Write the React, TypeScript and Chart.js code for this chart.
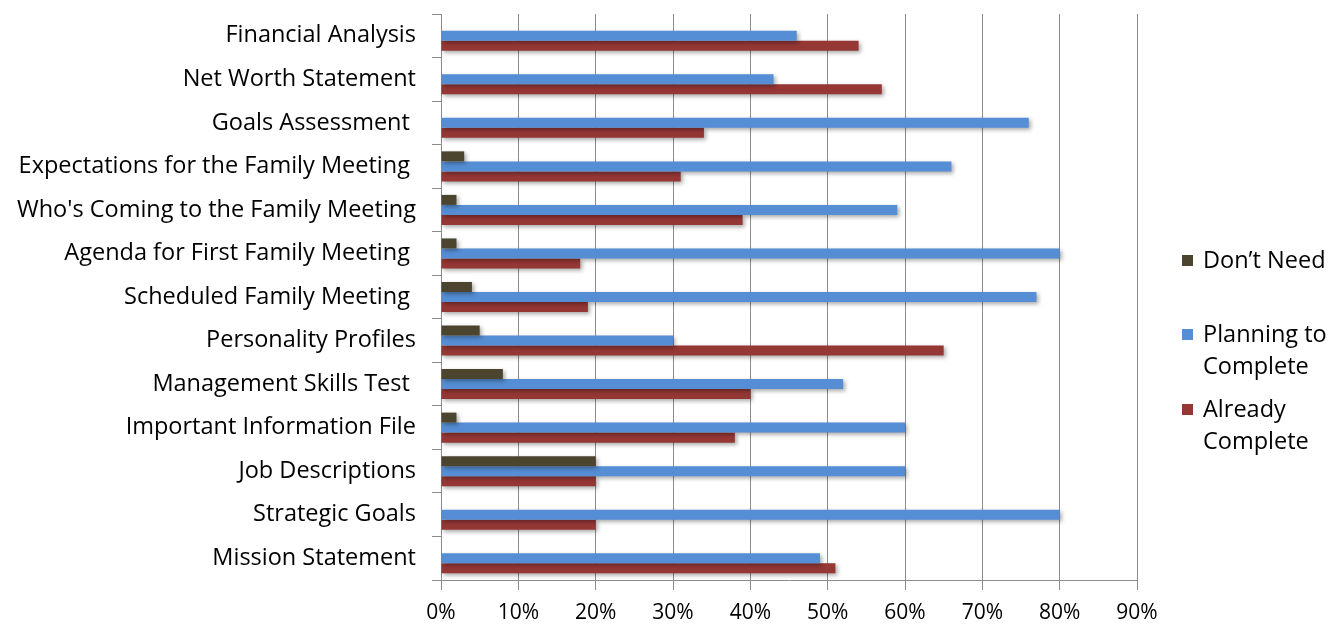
import React, { useEffect, useRef } from "react";
import { Chart, registerables } from "chart.js";

Chart.register(...registerables);

const categories = [
  "Financial Analysis",
  "Net Worth Statement",
  "Goals Assessment ",
  "Expectations for the Family Meeting ",
  "Who's Coming to the Family Meeting",
  "Agenda for First Family Meeting ",
  "Scheduled Family Meeting ",
  "Personality Profiles",
  "Management Skills Test ",
  "Important Information File",
  "Job Descriptions",
  "Strategic Goals",
  "Mission Statement",
];

const dontNeed = [0, 0, 0, 3, 2, 2, 4, 5, 8, 2, 20, 0, 0];
const planningToComplete = [46, 43, 76, 66, 59, 80, 77, 30, 52, 60, 60, 80, 49];
const alreadyComplete = [54, 57, 34, 31, 39, 18, 19, 65, 40, 38, 20, 20, 51];

const xTicks = [0, 10, 20, 30, 40, 50, 60, 70, 80, 90];

const seriesNames = ["Don\u2019t Need", "Planning to Complete", "Already Complete"];
const seriesColors = ["#4B4530", "#558ED5", "#953735"];

const FONT = "'Open Sans', 'Noto Sans', sans-serif";

const shadowPlugin = {
  id: "barShadow",
  beforeDatasetsDraw(chart: any) {
    const ctx = chart.ctx;
    ctx.save();
    ctx.shadowColor = "rgba(0,0,0,0.35)";
    ctx.shadowBlur = 4;
    ctx.shadowOffsetX = 2;
    ctx.shadowOffsetY = 2;
  },
  afterDatasetsDraw(chart: any) {
    chart.ctx.restore();
  },
};

export default function App() {
  const ref = useRef<HTMLCanvasElement | null>(null);

  useEffect(() => {
    if (!ref.current) return;
    const chart = new Chart(ref.current, {
      type: "bar",
      data: {
        labels: categories,
        datasets: [
          { label: seriesNames[0], data: dontNeed, backgroundColor: seriesColors[0] },
          { label: seriesNames[1], data: planningToComplete, backgroundColor: seriesColors[1] },
          { label: seriesNames[2], data: alreadyComplete, backgroundColor: seriesColors[2] },
        ],
      },
      plugins: [shadowPlugin],
      options: {
        indexAxis: "y",
        animation: false,
        responsive: false,
        maintainAspectRatio: false,
        layout: { padding: { top: 14, right: 195, bottom: 0, left: 0 } },
        datasets: {
          bar: { categoryPercentage: 0.69, barPercentage: 1.0 },
        },
        plugins: {
          legend: { display: false },
          tooltip: { enabled: false },
        },
        scales: {
          x: {
            min: 0,
            max: 90,
            afterBuildTicks: (scale: any) => {
              scale.ticks = xTicks.map((v) => ({ value: v }));
            },
            afterFit: (scale: any) => {
              scale.height = 46;
            },
            ticks: {
              callback: (v: any) => v + "%",
              color: "#000",
              font: { family: FONT, size: 21 },
              padding: 10,
              maxRotation: 0,
            },
            grid: {
              color: "#8c8c8c",
              lineWidth: 1,
              tickLength: 10,
              drawOnChartArea: true,
            },
            border: { color: "#8c8c8c", width: 1 },
          },
          y: {
            offset: true,
            afterFit: (scale: any) => {
              scale.width = 441;
              scale.paddingTop = 0;
              scale.paddingBottom = 0;
            },
            ticks: {
              color: "#000",
              font: { family: FONT, size: 23.5 },
              padding: 16,
              autoSkip: false,
            },
            grid: {
              offset: true,
              drawOnChartArea: false,
              color: "#8c8c8c",
              tickLength: 9,
            },
            border: { color: "#8c8c8c", width: 1 },
          },
        },
      },
    } as any);
    return () => chart.destroy();
  }, []);

  const legendItem = (i: number, lines: string[], top: number) => (
    <div
      key={i}
      style={{ position: "absolute", left: 1182, top, display: "flex", alignItems: "flex-start" }}
    >
      <div
        style={{
          width: 11,
          height: 11,
          background: seriesColors[i],
          marginTop: 12,
          marginRight: 10,
        }}
      />
      <div style={{ fontFamily: FONT, fontSize: 23.5, lineHeight: "32px", color: "#000", whiteSpace: "nowrap" }}>
        {lines.map((l, k) => (
          <div key={k}>{l}</div>
        ))}
      </div>
    </div>
  );

  return (
    <div
      style={{
        position: "absolute",
        left: 0,
        top: 0,
        width: 1332,
        height: 626,
        background: "#fff",
        overflow: "hidden",
      }}
    >
      <canvas ref={ref} width={1332} height={626} style={{ position: "absolute", left: 0, top: 0 }} />
      {legendItem(0, ["Don\u2019t Need"], 243)}
      {legendItem(1, ["Planning to", "Complete"], 317)}
      {legendItem(2, ["Already", "Complete"], 392)}
    </div>
  );
}
